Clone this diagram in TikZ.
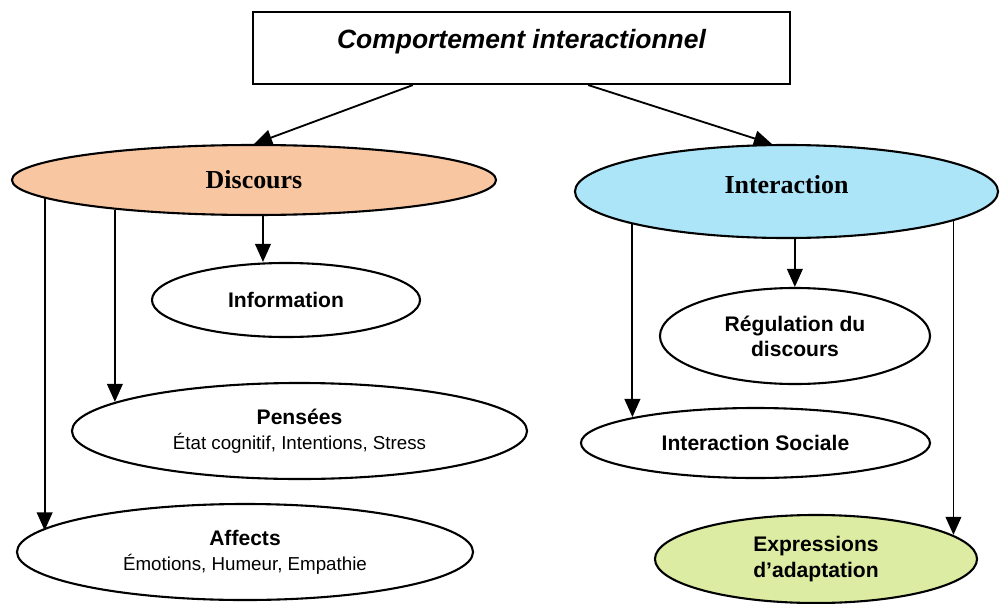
\documentclass[tikz,border=0pt]{standalone}
\usepackage{fontspec}
\setmainfont{Liberation Sans}
\newfontfamily\timesfont{Liberation Serif}
\usepackage{xcolor}
\usepackage{tikz}
\usetikzlibrary{shapes.geometric}
\usetikzlibrary{arrows.meta}

\definecolor{discfill}{RGB}{249,198,162}
\definecolor{interfill}{RGB}{172,228,248}
\definecolor{exprfill}{RGB}{221,236,163}
\newcommand{\sublabel}[1]{{\fontsize{11.2}{14}\selectfont\mdseries #1}}

\begin{document}
\begin{tikzpicture}[x=0.021cm, y=-0.021cm,
  bubble/.style={ellipse, draw, line width=1.25pt, inner sep=0pt, align=center,
    font=\fontsize{12.6}{15}\selectfont\bfseries},
  mainbubble/.style={bubble, font=\timesfont\fontsize{15.5}{18}\selectfont\bfseries},
  arr/.style={line width=1.1pt, -{Triangle[length=0.38cm, width=0.33cm]}}]
  \useasboundingbox (0,0) rectangle (1000,604);

  % Title box
  \node[draw, line width=1.25pt, minimum width=11.28cm, inner sep=0pt,
        text height=0.756cm, text depth=0.756cm, anchor=base,
        font=\fontsize{15.8}{18}\selectfont\bfseries\itshape] (comp) at (521.5,48) {Comportement interactionnel};

  % Two main branches
  \node[mainbubble, fill=discfill, minimum width=10.164cm, minimum height=1.47cm] (disc) at (254,180) {Discours};
  \node[mainbubble, fill=interfill, minimum width=8.883cm, minimum height=1.953cm,
        text depth=0.29cm] (inter) at (786.5,191.5) {Interaction};

  % Discours side
  \node[bubble, minimum width=5.628cm, minimum height=1.554cm] (info) at (286,300) {Information};
  \node[bubble, minimum width=9.555cm, minimum height=2.016cm] (pens) at (299.5,431) {Pensées\\ \sublabel{État cognitif, Intentions, Stress}};
  \node[bubble, minimum width=9.576cm, minimum height=2.016cm] (aff) at (245,552) {Affects\\ \sublabel{Émotions, Humeur, Empathie}};

  % Interaction side
  \node[bubble, minimum width=5.67cm, minimum height=2.016cm] (reg) at (795,336) {Régulation du\\ discours};
  \node[bubble, minimum width=7.329cm, minimum height=1.47cm] (soc) at (755.5,443) {Interaction Sociale};
  \node[bubble, fill=exprfill, minimum width=6.762cm, minimum height=1.848cm] (expr) at (816,559) {Expressions\\ d’adaptation};

  % Arrows
  \draw[arr] ([xshift=-2.28cm]comp.south) -- (disc.north);
  \draw[arr] ([xshift=1.4cm]comp.south) -- (inter.107);

  \draw[arr] (disc.284) -- (disc.284 |- info.north);
  \draw[arr] (disc.192) -- (disc.192 |- pens.171);
  \draw[arr] (disc.185) -- (disc.185 |- aff.174);

  \draw[arr] (inter.280) -- (inter.280 |- reg.north);
  \draw[arr] (inter.192) -- (inter.192 |- soc.168);
  \draw[arr] (inter.350) -- (inter.350 |- expr.10);
\end{tikzpicture}
\end{document}
